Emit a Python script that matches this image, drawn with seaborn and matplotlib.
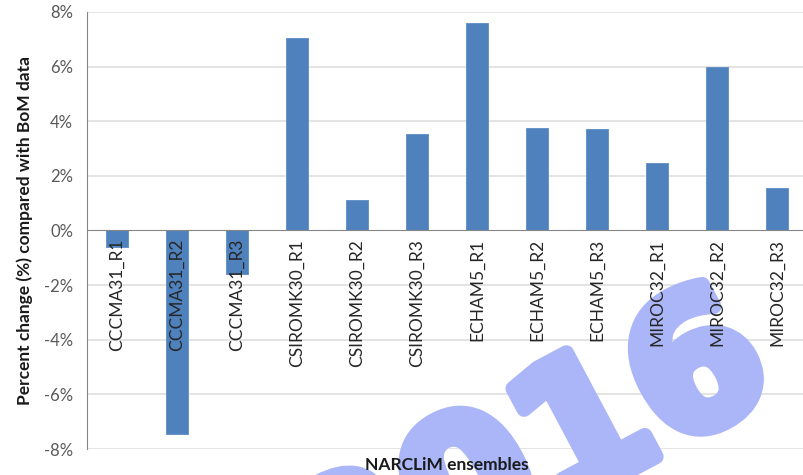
import matplotlib
matplotlib.use("Agg")
import matplotlib.pyplot as plt
import matplotlib.patheffects as pe
import seaborn as sns
import pandas as pd
from matplotlib.ticker import FixedLocator, FuncFormatter

ensembles = ["CCCMA31_R1", "CCCMA31_R2", "CCCMA31_R3",
             "CSIROMK30_R1", "CSIROMK30_R2", "CSIROMK30_R3",
             "ECHAM5_R1", "ECHAM5_R2", "ECHAM5_R3",
             "MIROC32_R1", "MIROC32_R2", "MIROC32_R3"]
pct_change = [-0.6, -7.45, -1.6, 7.05, 1.1, 3.52, 7.58, 3.76, 3.72, 2.48, 5.98, 1.54]
yticks = [-8, -6, -4, -2, 0, 2, 4, 6, 8]

df = pd.DataFrame({"ensemble": ensembles, "change": pct_change})

sns.set_style("white")
plt.rcParams["font.family"] = ["Lato", "DejaVu Sans"]

fig = plt.figure(figsize=(8.04, 4.75), dpi=100)
ax = fig.add_axes([87 / 804, 1 - 449 / 475, 720 / 804, 437 / 475])

sns.barplot(data=df, x="ensemble", y="change", color="#4f81bd", saturation=1,
            width=0.38, edgecolor="#5b8cc6", linewidth=0.6, ax=ax, zorder=2)

# grid lines drawn by hand so the watermark can sit between grid and text
for v in yticks:
    if v != 0:
        ax.axhline(v, color="#dcdcdc", lw=1.1, zorder=0.2)

ax.set_ylim(-8, 8)
ax.set_xlim(-0.5, len(ensembles) - 0.5)
ax.set_yticks(yticks)
ax.yaxis.set_major_formatter(FuncFormatter(lambda v, p: f"{v:.0f}%"))
ax.tick_params(axis="y", length=5, color="#868686", labelsize=12,
               labelcolor="#595959", pad=5)

ax.spines["bottom"].set_position(("data", 0))
ax.spines["bottom"].set_color("#868686")
ax.spines["left"].set_color("#868686")
ax.spines["top"].set_visible(False)
ax.spines["right"].set_visible(False)

ax.xaxis.set_minor_locator(FixedLocator([i + 0.5 for i in range(-1, len(ensembles))]))
ax.tick_params(axis="x", which="minor", length=5, color="#868686", direction="out")
ax.tick_params(axis="x", which="major", length=0, labelsize=12.5,
               labelcolor="#262626", pad=6)
plt.setp(ax.get_xticklabels(), rotation=90, va="top")

ax.set_axisbelow(False)
ax.set_xlabel("NARCLiM ensembles", fontsize=12.5, fontweight="bold", color="#1a1a1a")
ax.xaxis.set_label_coords(0.5, -0.037)
ax.xaxis.label.set_va("center")
ax.set_ylabel("Percent change (%) compared with BoM data", fontsize=12.5,
              fontweight="bold", color="#1a1a1a", labelpad=8)

# watermark stamp
ax.text(0.66, 0.02, "2016", transform=fig.transFigure, ha="center", va="center",
        rotation=28, fontsize=132, fontweight="heavy",
        color="#aab6f8", family="DejaVu Sans", zorder=1, clip_on=False,
        path_effects=[pe.withStroke(linewidth=11, foreground="#aab6f8")])

fig.savefig("out.png", dpi=100, facecolor="white")
